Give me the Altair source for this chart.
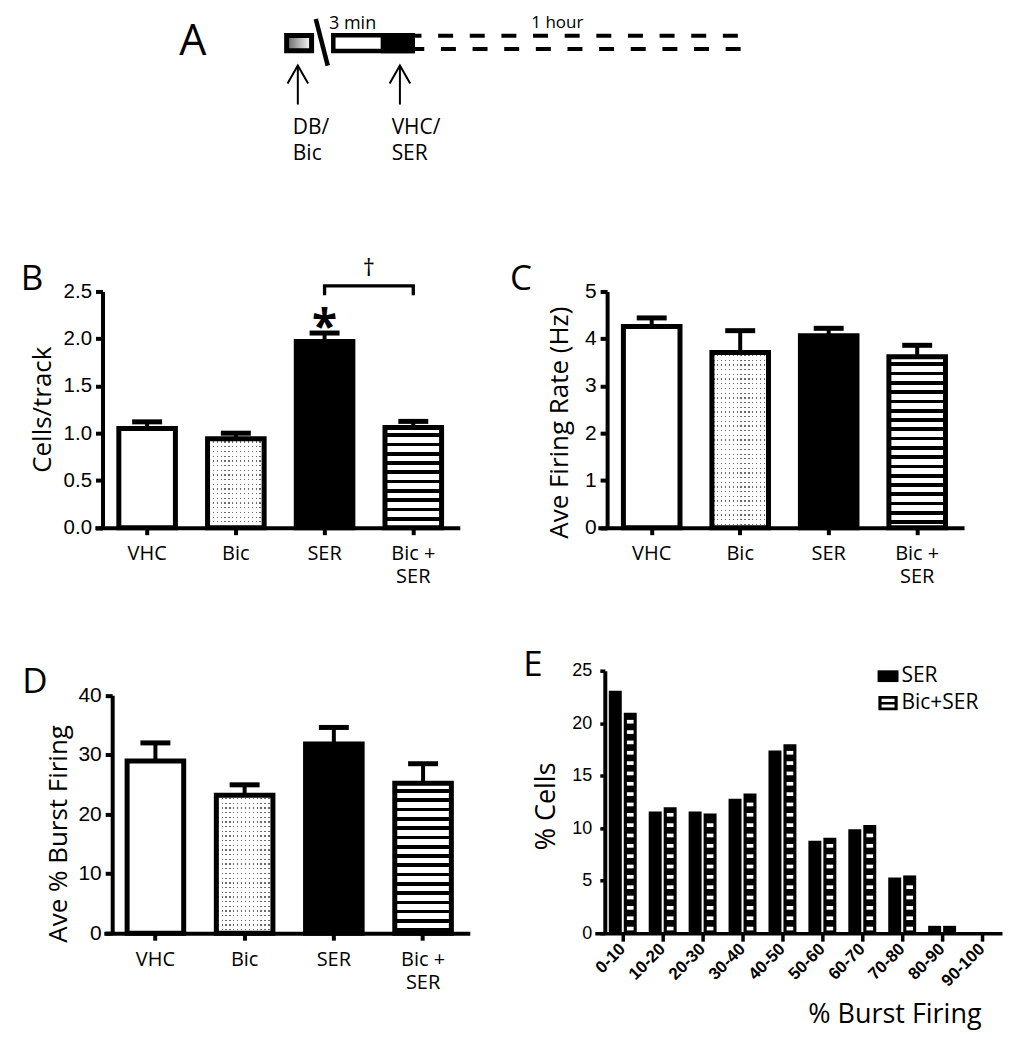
import altair as alt
import pandas as pd

# ---------------- values ----------------
groups = ["VHC", "Bic", "SER", "Bic + SER"]
cells_mean = [1.05, 0.94, 1.97, 1.06]
cells_sem = [0.07, 0.06, 0.09, 0.065]
rate_mean = [4.26, 3.71, 4.06, 3.62]
rate_sem = [0.18, 0.46, 0.16, 0.24]
burst_mean = [28.95, 23.2, 31.8, 25.2]
burst_sem = [3.05, 1.75, 2.8, 3.3]

burst_bins = ["0-10", "10-20", "20-30", "30-40", "40-50",
              "50-60", "60-70", "70-80", "80-90", "90-100"]
pct_ser = [23.1, 11.6, 11.6, 12.8, 17.4, 8.8, 9.9, 5.3, 0.7, 0.0]
pct_bicser = [21.0, 12.0, 11.4, 13.3, 18.0, 9.1, 10.3, 5.5, 0.7, 0.0]
series = ["SER", "Bic+SER"]

# significance marks of panel B
star_group = ["SER"]
bracket_groups = ["SER", "SER", "Bic + SER", "Bic + SER"]
bracket_levels = [2.46, 2.56, 2.56, 2.46]

# ---------------- schematic of panel A (schematic units, y downwards) ----------------
a_pre_box = dict(x=[192.2], x2=[217.2], y=[23.5], y2=[38.8])
a_test_box = dict(x=[238.95], x2=[318.45], y=[23.25], y2=[39.05])
a_drug_block = dict(x=[286.4], x2=[320.7], y=[21.0], y2=[41.3])
a_hour_box = dict(x=[318.7], x2=[647.4], y=[23.7], y2=[37.0])
a_break = dict(x=[221.4], x2=[233.4], y=[7.0], y2=[53.7])
a_arrow_x = [203.4, 305.7]
a_arrow_tip = 53.7
a_arrow_end = 92.7
a_arrow_labels = ["DB/\nBic", "VHC/\nSER"]
a_arrow_label_x = [198.4, 297.4]
a_arrow_label_y = 122.0
a_time_labels = ["3 min", "1 hour"]
a_time_x = [234.7, 437.4]
a_time_y = [17.0, 16.0]

FONT_T = "Open Sans"
FONT_N = "Liberation Sans"
BAR_W = 56.7
LETTER_K = 34.0  # title baseline shift


def gstop(color, offset):
    return alt.GradientStop(color=color, offset=max(0.0, min(1.0, round(offset, 5))))


def stripes(length_px, period, line, start, c_line, c_bg, vertical=True):
    stops = [gstop(c_bg, 0)]
    p = start
    while p < length_px - 0.3:
        a = p / length_px
        b = min(p + line, length_px) / length_px
        stops += [gstop(c_bg, a), gstop(c_line, a), gstop(c_line, b), gstop(c_bg, b)]
        p += period
    stops.append(gstop(c_bg, 1))
    if vertical:
        return alt.LinearGradient(gradient="linear", stops=stops, x1=0, y1=0, x2=0, y2=1)
    return alt.LinearGradient(gradient="linear", stops=stops, x1=0, y1=0, x2=1, y2=0)


def band(n, width, first_center, step, bar_w):
    pi = 1 - bar_w / step
    spare = width - step * (n - pi)
    return dict(paddingInner=pi, paddingOuter=spare / (2 * step),
                align=(first_center - bar_w / 2) / spare)


def letter_title(letter, dx, dy, size=35):
    return alt.TitleParams(text=letter, anchor="start", frame="group", orient="top",
                           font=FONT_T, fontSize=size, fontWeight="normal", color="black",
                           baseline="alphabetic", offset=0, dx=dx, dy=dy)


LABEL_EXPR = "datum.value == 'Bic + SER' ? ['Bic +', 'SER'] : datum.value"


def bar_panel(means, sems, letter, ldx, ldy, ytitle, ymax, yvals, yfmt, width, height,
              x_start, first_center, step, y_top, axis_offset, title_x, title_y,
              label_size=21, annotate=False):
    df = pd.DataFrame({"g": groups, "m": means,
                       "top": [m + s for m, s in zip(means, sems)]})
    xs = alt.Scale(domain=groups, range=[x_start, width],
                   **band(len(groups), width - x_start, first_center, step, BAR_W))
    ys = alt.Scale(domain=[0, ymax], range=[height, y_top], nice=False, zero=True)
    xaxis = alt.Axis(title=None, labelAngle=0, labelExpr=LABEL_EXPR, labelFont=FONT_T,
                     labelFontSize=20, labelColor="black", labelPadding=9,
                     labelLineHeight=23, tickSize=7, tickWidth=4, tickColor="black",
                     domainWidth=4, domainColor="black", grid=False)
    yaxis = alt.Axis(values=yvals, format=yfmt, offset=axis_offset, title=ytitle,
                     titleX=title_x, titleY=title_y, titleAngle=270, titleAlign="center",
                     titleBaseline="alphabetic", titleFont=FONT_T, titleFontSize=26,
                     titleFontWeight="normal", titleColor="black", labelFont=FONT_N,
                     labelFontSize=label_size, labelColor="black", labelPadding=4,
                     tickSize=7, tickWidth=4, tickColor="black", domainWidth=4,
                     domainColor="black", grid=False)

    def X():
        return alt.X("g:N", scale=xs, axis=xaxis)

    def Y(field):
        return alt.Y(f"{field}:Q", scale=ys, axis=yaxis)

    ppu = (height - y_top) / ymax

    def h(g):
        return means[groups.index(g)] * ppu

    base = alt.Chart(df).encode(x=X(), y=Y("m"))
    layers = [
        base.transform_filter(alt.datum.g == "VHC").mark_bar(fill="white", strokeWidth=0),
        base.transform_filter(alt.datum.g == "Bic").mark_bar(
            fill=stripes(h("Bic"), 4.7, 1.3, 2.6, "#6a6a6a", "white"), strokeWidth=0),
        base.transform_filter(alt.datum.g == "Bic").mark_bar(
            fill=stripes(BAR_W, 3.9, 1.3, 1.3, "rgba(255,255,255,0)", "white", vertical=False),
            strokeWidth=0),
        base.transform_filter(alt.datum.g == "SER").mark_bar(fill="black", strokeWidth=0),
        base.transform_filter(alt.datum.g == "Bic + SER").mark_bar(
            fill=stripes(h("Bic + SER"), 9.3, 3.7, 5.8, "black", "white"), strokeWidth=0),
        base.mark_bar(fill="transparent", stroke="black", strokeWidth=5),
        alt.Chart(df).mark_rule(color="black", strokeWidth=4).encode(
            x=X(), y=Y("m"), y2="top:Q"),
        alt.Chart(df).mark_tick(color="black", thickness=5, size=30, opacity=1).encode(
            x=X(), y=Y("top")),
    ]
    if annotate:
        star = df[df.g.isin(star_group)].assign(t="*")
        layers.append(alt.Chart(star).mark_text(
            font=FONT_T, fontSize=46, fontWeight="bold", baseline="alphabetic", dy=10,
            color="black").encode(x=X(), y=Y("top"), text="t:N"))
        br = pd.DataFrame({"g": bracket_groups, "lvl": bracket_levels,
                           "o": list(range(len(bracket_groups)))})
        layers.append(alt.Chart(br).mark_line(color="black", strokeWidth=3.3).encode(
            x=X(), y=Y("lvl"), order="o:Q"))
        dag = pd.DataFrame({"g": [bracket_groups[0]], "lvl": [max(bracket_levels)],
                            "t": ["\u2020"]})
        layers.append(alt.Chart(dag).mark_text(
            font=FONT_T, fontSize=24, baseline="alphabetic", dx=step / 2, dy=-10,
            color="black").encode(x=X(), y=Y("lvl"), text="t:N"))
    return alt.layer(*layers).properties(width=width, height=height,
                                         title=letter_title(letter, ldx, ldy))


panel_b = bar_panel(cells_mean, cells_sem, "B", -74.3, -0.6 + 35 + LETTER_K, "Cells/track",
                    2.5, [0, 0.5, 1.0, 1.5, 2.0, 2.5], ".1f", 365.7, 236.7, 0, 52.4, 88.9,
                    0, -7.7, -52, 118, label_size=20.5, annotate=True)
panel_c = bar_panel(rate_mean, rate_sem, "C", -85, 0.4 + 10 + LETTER_K,
                    "Ave Firing Rate (Hz)", 5, [0, 1, 2, 3, 4, 5], "d", 370, 236.7, 3, 54,
                    88.67, 0, -12.3, -39.3, 131)
panel_d = bar_panel(burst_mean, burst_sem, "D", -72.6, 23 + LETTER_K, "Ave % Burst Firing",
                    40, [0, 10, 20, 30, 40], "d", 375.7, 263, 9, 51.7, 89.4,
                    24.7, -17.4, -45.7, 163)

# ---------------- panel E ----------------
e_df = pd.DataFrame({"bin": burst_bins * 2,
                     "series": ["SER"] * len(burst_bins) + ["Bic+SER"] * len(burst_bins),
                     "pct": pct_ser + pct_bicser})
DASH_START, DASH_PERIOD = 0.44, 0.985
dash_rows = []
for b, v in zip(burst_bins, pct_bicser):
    c = DASH_START
    while c <= v - 0.6:
        dash_rows.append({"bin": b, "series": "Bic+SER", "pct": c})
        c += DASH_PERIOD
dash_df = pd.DataFrame(dash_rows)

E_W, E_H = 408, 263
xsE = alt.Scale(domain=burst_bins, **band(len(burst_bins), E_W, 28, 40, 28))
offE = alt.Scale(domain=series, paddingInner=0.133, paddingOuter=0)
ysE = alt.Scale(domain=[0, 25], nice=False, zero=True)
xaxisE = alt.Axis(title="% Burst Firing", titleFont=FONT_T, titleFontSize=27,
                  titleFontWeight="normal", titleColor="black", titleX=387, titleY=90,
                  titleAlign="right", titleBaseline="alphabetic", labelAngle=315,
                  labelAlign="right", labelBaseline="middle", labelFont=FONT_N,
                  labelFontWeight="bold", labelFontSize=17, labelColor="black",
                  labelPadding=5, tickSize=8, tickWidth=3.5, tickColor="black",
                  domainWidth=3.5, domainColor="black", grid=False)
yaxisE = alt.Axis(values=[0, 5, 10, 15, 20, 25], format="d", offset=-10, title="% Cells",
                  titleX=-50, titleY=135.5, titleAngle=270, titleAlign="center",
                  titleBaseline="alphabetic", titleFont=FONT_T, titleFontSize=27,
                  titleFontWeight="normal", titleColor="black", labelFont=FONT_N,
                  labelFontSize=18, labelColor="black", labelPadding=8, tickSize=5,
                  tickWidth=3.5, tickColor="black", domainWidth=4, domainColor="black",
                  grid=False)


def XE():
    return alt.X("bin:N", scale=xsE, axis=xaxisE)


def OE():
    return alt.XOffset("series:N", scale=offE)


def YE():
    return alt.Y("pct:Q", scale=ysE, axis=yaxisE)


PATH_SER = "M-1,-0.56L1,-0.56L1,0.56L-1,0.56Z"
PATH_BIC = ("M-0.92,-0.67L0.92,-0.67L0.92,0.67L-0.92,0.67Z "
            "M-0.62,-0.42L-0.62,-0.12L0.62,-0.12L0.62,-0.42Z "
            "M-0.62,0.12L-0.62,0.42L0.62,0.42L0.62,0.12Z")
PATH_DASH = "M-1,-0.55L1,-0.55L1,0.55L-1,0.55Z"
legE = alt.Legend(title=None, orient="none", legendX=283.3, legendY=-5, labelFont=FONT_T,
                  labelFontSize=21, labelColor="black", symbolSize=441, symbolOpacity=1,
                  symbolStrokeWidth=0, rowPadding=5, labelOffset=3, padding=0)

e_bars = alt.Chart(e_df).mark_bar(fill="black", strokeWidth=0).encode(
    x=XE(), xOffset=OE(), y=YE())
e_dashes = alt.Chart(dash_df).mark_point(shape=PATH_DASH, size=45, filled=True,
                                         color="white", opacity=1, strokeWidth=0).encode(
    x=XE(), xOffset=OE(), y=YE())
e_legend = alt.Chart(e_df).mark_point(filled=True, opacity=0, size=10).encode(
    x=XE(), xOffset=OE(), y=YE(),
    color=alt.Color("series:N", scale=alt.Scale(domain=series, range=["black", "black"]),
                    legend=legE),
    shape=alt.Shape("series:N", scale=alt.Scale(domain=series, range=[PATH_SER, PATH_BIC]),
                    legend=legE))
panel_e = alt.layer(e_bars, e_dashes, e_legend).properties(
    width=E_W, height=E_H, title=letter_title("E", -71.7, 6.3 + 9 + LETTER_K))

# ---------------- panel A (schematic) ----------------
A_W, A_H = 365.7, 136.3
axA = alt.X("x:Q", scale=alt.Scale(domain=[0, A_W], nice=False, zero=False), axis=None)
ayA = alt.Y("y:Q", scale=alt.Scale(domain=[0, A_H], nice=False, zero=False, reverse=True),
            axis=None)


def rect_layer(d, **mark):
    return alt.Chart(pd.DataFrame(d)).mark_rect(**mark).encode(
        x=axA, x2="x2:Q", y=ayA, y2="y2:Q")


grad_pre = alt.LinearGradient(gradient="linear", x1=0, y1=0, x2=1, y2=0,
                              stops=[gstop("#666666", 0), gstop("#ffffff", 1)])
arrow_rows = []
for i, ax in enumerate(a_arrow_x):
    for j, (px, py) in enumerate([(ax - 10.3, a_arrow_tip + 18), (ax, a_arrow_tip),
                                  (ax + 10.3, a_arrow_tip + 18)]):
        arrow_rows.append({"x": px, "y": py, "seg": f"head{i}", "o": j})
    arrow_rows.append({"x": ax, "y": a_arrow_tip, "seg": f"shaft{i}", "o": 0})
    arrow_rows.append({"x": ax, "y": a_arrow_end, "seg": f"shaft{i}", "o": 1})

a_layers = [
    rect_layer(a_hour_box, fill="transparent", stroke="black", strokeWidth=4,
               strokeDash=[15, 16.7], strokeDashOffset=6.4),
    rect_layer(a_pre_box, fill=grad_pre, stroke="black", strokeWidth=5),
    rect_layer(a_test_box, fill="white", stroke="black", strokeWidth=4.5),
    rect_layer(a_drug_block, fill="black", strokeWidth=0),
    alt.Chart(pd.DataFrame(a_break)).mark_rule(color="black", strokeWidth=4.5).encode(
        x=axA, x2="x2:Q", y=ayA, y2="y2:Q"),
    alt.Chart(pd.DataFrame(arrow_rows)).mark_line(color="black", strokeWidth=2).encode(
        x=axA, y=ayA, detail="seg:N", order="o:Q"),
    alt.Chart(pd.DataFrame({"x": a_time_x[:1], "y": a_time_y[:1], "t": a_time_labels[:1]}))
    .mark_text(font=FONT_T, fontSize=18, align="left", baseline="alphabetic", color="black")
    .encode(x=axA, y=ayA, text="t:N"),
    alt.Chart(pd.DataFrame({"x": a_time_x[1:], "y": a_time_y[1:], "t": a_time_labels[1:]}))
    .mark_text(font=FONT_T, fontSize=17, align="left", baseline="alphabetic", color="black")
    .encode(x=axA, y=ayA, text="t:N"),
    alt.Chart(pd.DataFrame({"x": a_arrow_label_x, "y": [a_arrow_label_y] * 2,
                            "t": a_arrow_labels}))
    .mark_text(font=FONT_T, fontSize=21, align="left", baseline="alphabetic",
               lineBreak="\n", lineHeight=26.7, color="black")
    .encode(x=axA, y=ayA, text="t:N"),
    alt.Chart(pd.DataFrame({"x": [84.7], "y": [43.0], "t": ["A"]}))
    .mark_text(font=FONT_T, fontSize=43, align="left", baseline="alphabetic", color="black")
    .encode(x=axA, y=ayA, text="t:N"),
]
panel_a = alt.layer(*a_layers).properties(width=A_W, height=A_H)

# empty cell next to panel A
blank = alt.Chart(pd.DataFrame({"v": [0]})).mark_point(opacity=0).encode(
    x=alt.X("v:Q", axis=None), y=alt.Y("v:Q", axis=None)).properties(width=1, height=1)

# ---------------- layout ----------------
chart = alt.concat(panel_a, blank, panel_b, panel_c, panel_d, panel_e, columns=2,
                   spacing={"row": 143, "column": 125}, bounds="flush", align="each"
                   ).resolve_legend(color="independent", shape="independent").properties(
    padding={"left": 12, "top": 0, "right": 4, "bottom": 4}, background="white"
).configure_view(stroke=None).configure_legend(
    labelFont=FONT_T, labelFontSize=21, labelColor="black", symbolSize=441,
    symbolStrokeWidth=0, rowPadding=5, labelOffset=3, padding=0, labelLimit=200)

chart.save("out.html", embed_options={"renderer": "svg", "actions": False})
